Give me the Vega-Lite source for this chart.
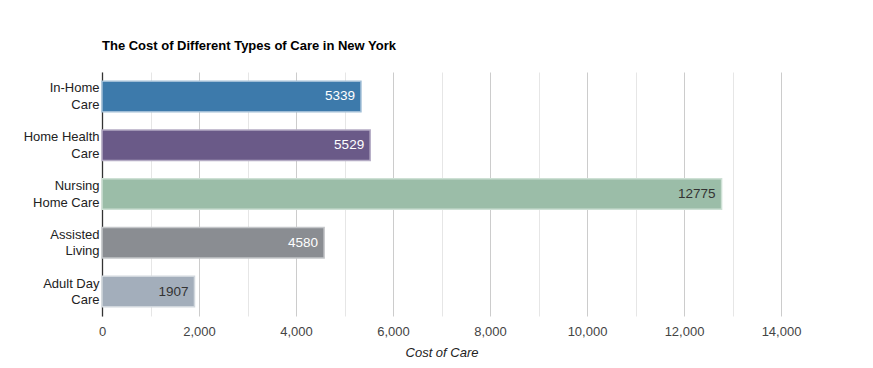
{
  "$schema": "https://vega.github.io/schema/vega-lite/v6.json",
  "autosize": "none",
  "width": 679,
  "height": 244,
  "padding": {"left": 102, "top": 72, "right": 92, "bottom": 52},
  "background": "white",
  "title": {
    "text": "The Cost of Different Types of Care in New York",
    "anchor": "start",
    "frame": "group",
    "font": "Liberation Sans",
    "fontSize": 13,
    "fontWeight": "bold",
    "color": "#000000",
    "offset": 19
  },
  "data": {
    "values": [
      {"type": "In-Home\nCare", "cost": 5339, "color": "#3d7aab", "stroke": "#9fbdd6", "textColor": "#ffffff"},
      {"type": "Home Health\nCare", "cost": 5529, "color": "#6a5a88", "stroke": "#b4abc4", "textColor": "#ffffff"},
      {"type": "Nursing\nHome Care", "cost": 12775, "color": "#9bbda8", "stroke": "#cde0d4", "textColor": "#333333"},
      {"type": "Assisted\nLiving", "cost": 4580, "color": "#8a8d92", "stroke": "#c4c6c9", "textColor": "#ffffff"},
      {"type": "Adult Day\nCare", "cost": 1907, "color": "#a3aebb", "stroke": "#d1d7dd", "textColor": "#333333"}
    ]
  },
  "encoding": {
    "y": {
      "field": "type",
      "type": "nominal",
      "sort": null,
      "scale": {"paddingInner": 0.375, "paddingOuter": 0.1875},
      "axis": {
        "title": null,
        "labelExpr": "split(datum.label, '\\n')",
        "labelFont": "Liberation Sans",
        "labelFontSize": 13,
        "labelColor": "#222222",
        "labelLineHeight": 16.5,
        "labelBaseline": "middle",
        "labelOffset": -8,
        "labelPadding": 3,
        "ticks": false,
        "domainColor": "#333333",
        "domainWidth": 1.3,
        "grid": false
      }
    },
    "x": {
      "field": "cost",
      "type": "quantitative",
      "scale": {"domain": [0, 14000], "nice": false},
      "axis": {
        "title": "Cost of Care",
        "titleFont": "Liberation Sans",
        "titleFontSize": 13,
        "titleFontStyle": "italic",
        "titleFontWeight": "normal",
        "titleColor": "#222222",
        "titlePadding": 8,
        "values": [0, 1000, 2000, 3000, 4000, 5000, 6000, 7000, 8000, 9000, 10000, 11000, 12000, 13000, 14000],
        "labelExpr": "datum.value % 2000 === 0 ? format(datum.value, ',') : ''",
        "labelFont": "Liberation Sans",
        "labelFontSize": 13,
        "labelColor": "#444444",
        "labelPadding": 9,
        "labelFlush": false,
        "ticks": false,
        "domain": false,
        "grid": true,
        "gridColor": {"condition": {"test": "datum.value % 2000 === 0", "value": "#cccccc"}, "value": "#e6e6e6"},
        "gridWidth": 1
      }
    }
  },
  "layer": [
    {
      "mark": {"type": "bar", "strokeWidth": 1.5},
      "encoding": {
        "color": {"field": "color", "type": "nominal", "scale": null, "legend": null},
        "stroke": {"field": "stroke", "type": "nominal", "scale": null, "legend": null}
      }
    },
    {
      "mark": {"type": "text", "align": "right", "baseline": "middle", "dx": -6, "font": "Liberation Sans", "fontSize": 13.5},
      "encoding": {
        "text": {"field": "cost", "type": "quantitative", "format": "d"},
        "color": {"field": "textColor", "type": "nominal", "scale": null, "legend": null}
      }
    }
  ],
  "config": {"view": {"stroke": null}}
}
